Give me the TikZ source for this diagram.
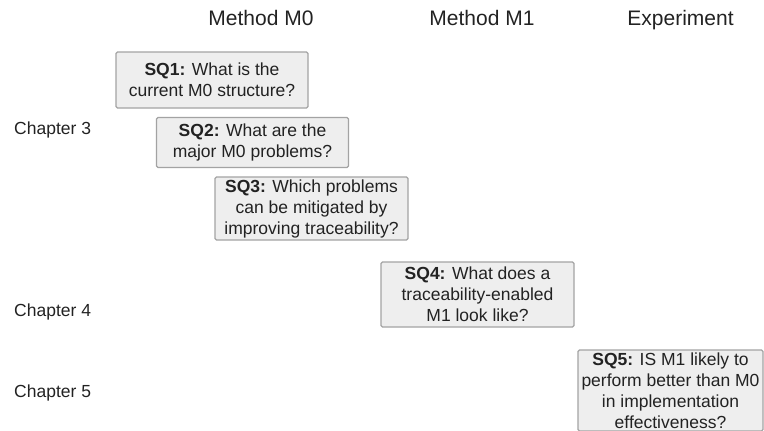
\documentclass[tikz,border=0pt]{standalone}
\usepackage{fontspec}
\setmainfont{Liberation Sans}
\usepackage{xcolor}
\usetikzlibrary{positioning}
\definecolor{boxfill}{HTML}{EEEEEE}
\definecolor{boxline}{HTML}{A3A3A3}
\definecolor{inktext}{HTML}{222222}
\newcommand{\sq}[1]{\textbf{SQ#1:}}

\begin{document}
\begin{tikzpicture}[x=1pt, y=-1pt, text=inktext,
    question/.style={draw=boxline, line width=1.3pt, fill=boxfill, rounded corners=1.5pt, inner sep=0pt, align=center, font=\fontsize{17.5}{21}\selectfont},
    colhead/.style={anchor=base, inner sep=0pt, font=\fontsize{21}{25}\selectfont},
    chapter/.style={anchor=base west, inner sep=0pt, font=\fontsize{17.5}{21}\selectfont}]
    \useasboundingbox (0,0) rectangle (764,431);

    % column headings
    \node[colhead] (m0) at (261,25) {Method M0};
    \node[colhead] (m1) at (482,25) {Method M1};
    \node[colhead] (exp) at (680.5,25) {Experiment};

    % chapters
    \node[chapter] (ch3) at (14,134) {Chapter 3};
    \node[chapter] (ch4) at (14,316) {Chapter 4};
    \node[chapter] (ch5) at (14,397) {Chapter 5};

    % sub-questions
    \node[question, minimum width=192pt, minimum height=56pt] (sq1) at (212,80) {\sq{1} What is the\\current M0 structure?};
    \node[question, minimum width=192pt, minimum height=50pt] (sq2) at (252.5,142.5) {\sq{2} What are the\\major M0 problems?};
    \node[question, minimum width=193pt, minimum height=63pt] (sq3) at (311.5,208.5) {\sq{3} Which problems\\can be mitigated by\\improving traceability?};
    \node[question, minimum width=193pt, minimum height=65pt] (sq4) at (477.5,294.5) {\sq{4} What does a\\traceability-enabled\\M1 look like?};
    \node[question, minimum width=185pt, minimum height=81pt] (sq5) at (670.5,390.5) {\sq{5} IS M1 likely to\\perform better than M0\\in implementation\\effectiveness?};
\end{tikzpicture}
\end{document}
